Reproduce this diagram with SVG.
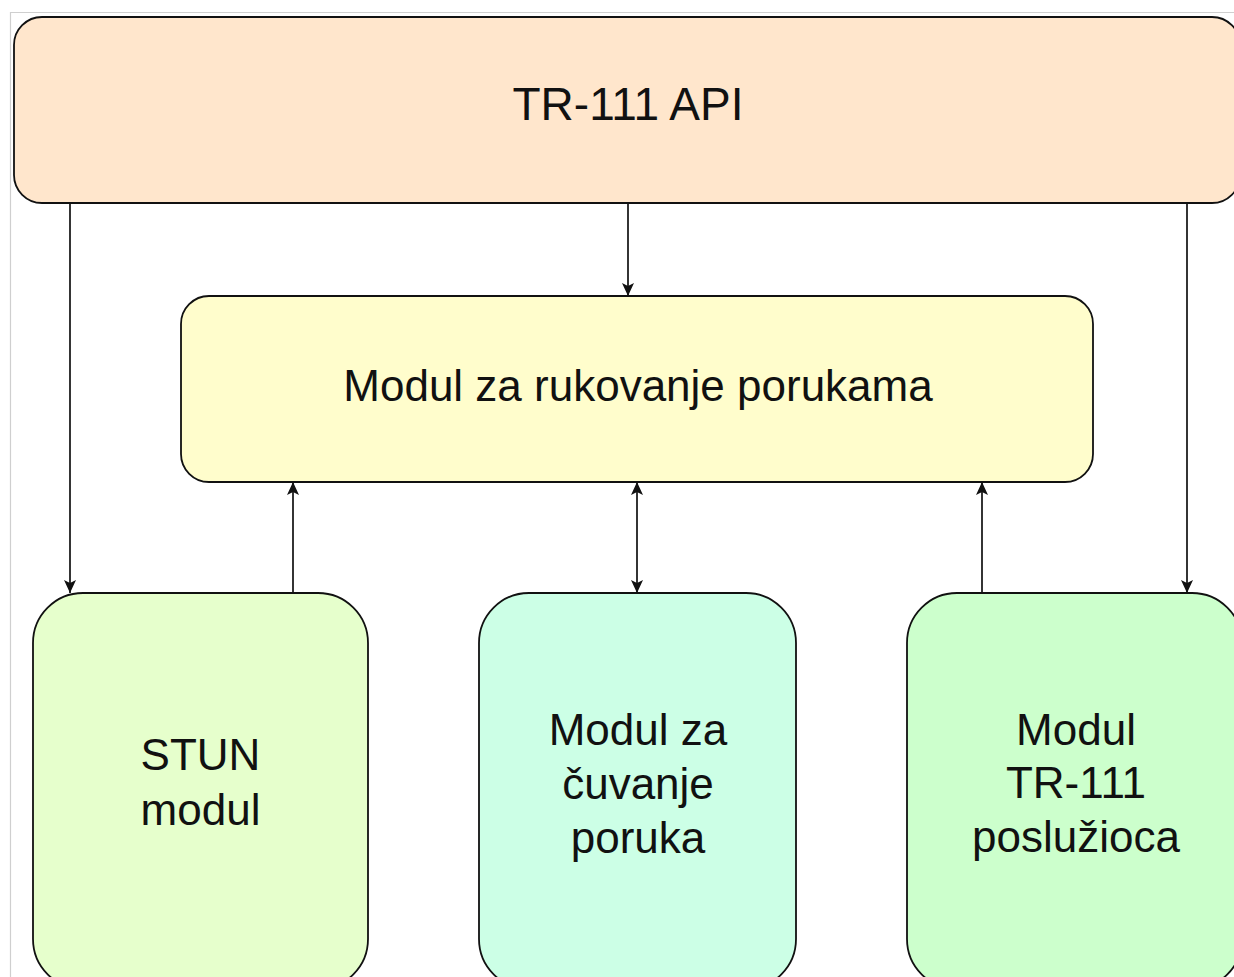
<svg xmlns="http://www.w3.org/2000/svg" width="1234" height="977" viewBox="0 0 1234 977">
  <style>
    .box { stroke: #111; stroke-width: 1.8; }
    .label { font-family: "Liberation Sans", Arial, Helvetica, sans-serif; font-size: 44px; fill: #111; text-anchor: middle; }
    .wide { font-size: 46px; }
    .edge { fill: none; stroke: #111; stroke-width: 1.7; }
  </style>
  <defs>
    <marker id="arrow" viewBox="-14 -8 15 16" refX="0" refY="0" markerWidth="15" markerHeight="16" markerUnits="userSpaceOnUse" orient="auto-start-reverse">
      <path d="M-13,-6 L0,0 L-13,6 L-10,0 Z" fill="#111"/>
    </marker>
  </defs>

  <rect width="1234" height="977" fill="#ffffff"/>
  <!-- page frame -->
  <path d="M10.5,977 V12.5 H1234" fill="none" stroke="#cfcfcf" stroke-width="1.2"/>

  <g id="connectors">
    <line class="edge" x1="70" y1="203" x2="70" y2="593" marker-end="url(#arrow)"/>
    <line class="edge" x1="628" y1="203" x2="628" y2="296" marker-end="url(#arrow)"/>
    <line class="edge" x1="1187" y1="203" x2="1187" y2="593" marker-end="url(#arrow)"/>
    <line class="edge" x1="293" y1="593" x2="293" y2="482" marker-end="url(#arrow)"/>
    <line class="edge" x1="982" y1="593" x2="982" y2="482" marker-end="url(#arrow)"/>
    <line class="edge" x1="637" y1="482" x2="637" y2="593" marker-start="url(#arrow)" marker-end="url(#arrow)"/>
  </g>

  <g id="api">
    <rect class="box" x="14" y="17" width="1226" height="186" rx="28" ry="28" fill="#ffe6cc"/>
    <text class="label wide" x="628" y="120">TR-111 API</text>
  </g>

  <g id="message-handler">
    <rect class="box" x="181" y="296" width="912" height="186" rx="28" ry="28" fill="#fffdcc"/>
    <text class="label" x="638" y="401">Modul za rukovanje porukama</text>
  </g>

  <g id="stun">
    <rect class="box" x="33" y="593" width="335" height="396" rx="50" ry="50" fill="#e6ffcc"/>
    <text class="label" x="200.5" y="770">STUN</text>
    <text class="label" x="200.5" y="825">modul</text>
  </g>

  <g id="storage">
    <rect class="box" x="479" y="593" width="317" height="396" rx="50" ry="50" fill="#ccffe6"/>
    <text class="label" x="638" y="745">Modul za</text>
    <text class="label" x="638" y="799">čuvanje</text>
    <text class="label" x="638" y="853">poruka</text>
  </g>

  <g id="server">
    <rect class="box" x="907" y="593" width="335" height="396" rx="50" ry="50" fill="#ccffcc"/>
    <text class="label" x="1076" y="745">Modul</text>
    <text class="label" x="1076" y="798">TR-111</text>
    <text class="label" x="1076" y="852">poslužioca</text>
  </g>
</svg>
